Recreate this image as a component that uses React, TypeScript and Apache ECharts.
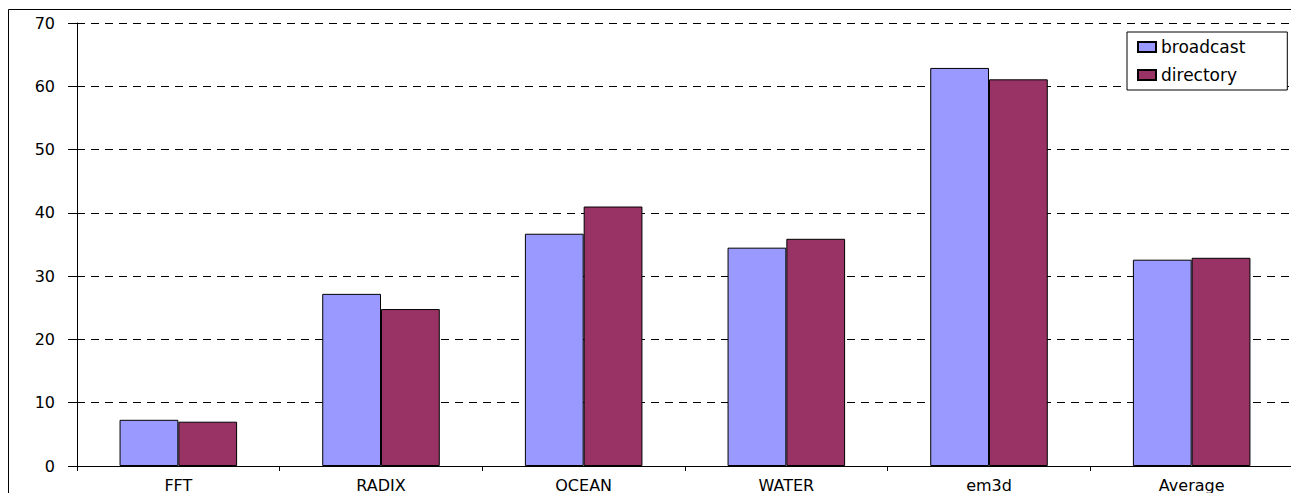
import React, { useEffect, useRef } from "react";
import * as echarts from "echarts";

const categories = ["FFT", "RADIX", "OCEAN", "WATER", "em3d", "Average"];
const broadcast = [7.3, 27.2, 36.7, 34.5, 62.9, 32.6];
const directory = [7.0, 24.8, 41.0, 35.9, 61.1, 32.9];
const seriesNames = ["broadcast", "directory"];
const yMin = 0;
const yMax = 70;
const yInterval = 10;

const FONT = "DejaVu Sans";

export default function App() {
  const ref = useRef<HTMLDivElement>(null);
  useEffect(() => {
    document.body.style.overflow = "hidden";
    const chart = echarts.init(ref.current!, undefined, { renderer: "svg" });
    chart.setOption({
      animation: false,
      backgroundColor: "#fff",
      textStyle: { fontFamily: FONT, color: "#000" },
      graphic: [
        {
          type: "rect",
          shape: { x: 0.5, y: 1.5, width: 3000, height: 3000 },
          style: { fill: "none", stroke: "#000", lineWidth: 1 },
          silent: true,
          z: 100,
        },
      ],
      grid: { left: 69, right: 6, top: 15, bottom: 26, containLabel: false },
      legend: {
        orient: "vertical",
        left: 1119,
        top: 24,
        selectedMode: false,
        icon: "rect",
        itemWidth: 18,
        itemHeight: 10,
        itemGap: 10,
        padding: [6, 42, 6, 10],
        borderColor: "#000",
        borderWidth: 1,
        backgroundColor: "#fff",
        textStyle: { fontFamily: FONT, fontSize: 17, color: "#000", lineHeight: 18 },
        data: seriesNames,
      },
      xAxis: {
        type: "category",
        data: categories,
        axisLine: { lineStyle: { color: "#000", width: 1 } },
        axisTick: { show: true, length: 5, lineStyle: { color: "#000" } },
        axisLabel: { fontFamily: FONT, fontSize: 16, color: "#000", margin: 11 },
        splitLine: { show: false },
      },
      yAxis: [
        {
          type: "value",
          min: yMin,
          max: yMax,
          interval: yInterval,
          axisLine: { show: true, lineStyle: { color: "#000", width: 1 } },
          axisTick: { show: true, length: 9, lineStyle: { color: "#000" } },
          axisLabel: { fontFamily: FONT, fontSize: 16, color: "#000", margin: 22 },
          splitLine: {
            show: true,
            lineStyle: { color: "#000", type: [8, 6], width: 1 },
          },
        },
        {
          type: "value",
          position: "right",
          min: yMin,
          max: yMax,
          interval: yInterval,
          axisLine: { show: true, lineStyle: { color: "#808080", width: 1 } },
          axisTick: { show: false },
          axisLabel: { show: false },
          splitLine: { show: false },
        },
      ],
      series: [
        {
          name: seriesNames[0],
          type: "bar",
          data: broadcast,
          barGap: "0%",
          barCategoryGap: "42%",
          itemStyle: { color: "#9999FF", borderColor: "#000", borderWidth: 1 },
        },
        {
          name: seriesNames[1],
          type: "bar",
          data: directory,
          barGap: "0%",
          barCategoryGap: "42%",
          itemStyle: { color: "#993366", borderColor: "#000", borderWidth: 1 },
        },
      ],
    });
    return () => chart.dispose();
  }, []);
  return <div ref={ref} style={{ width: 1291, height: 485 }} />;
}
